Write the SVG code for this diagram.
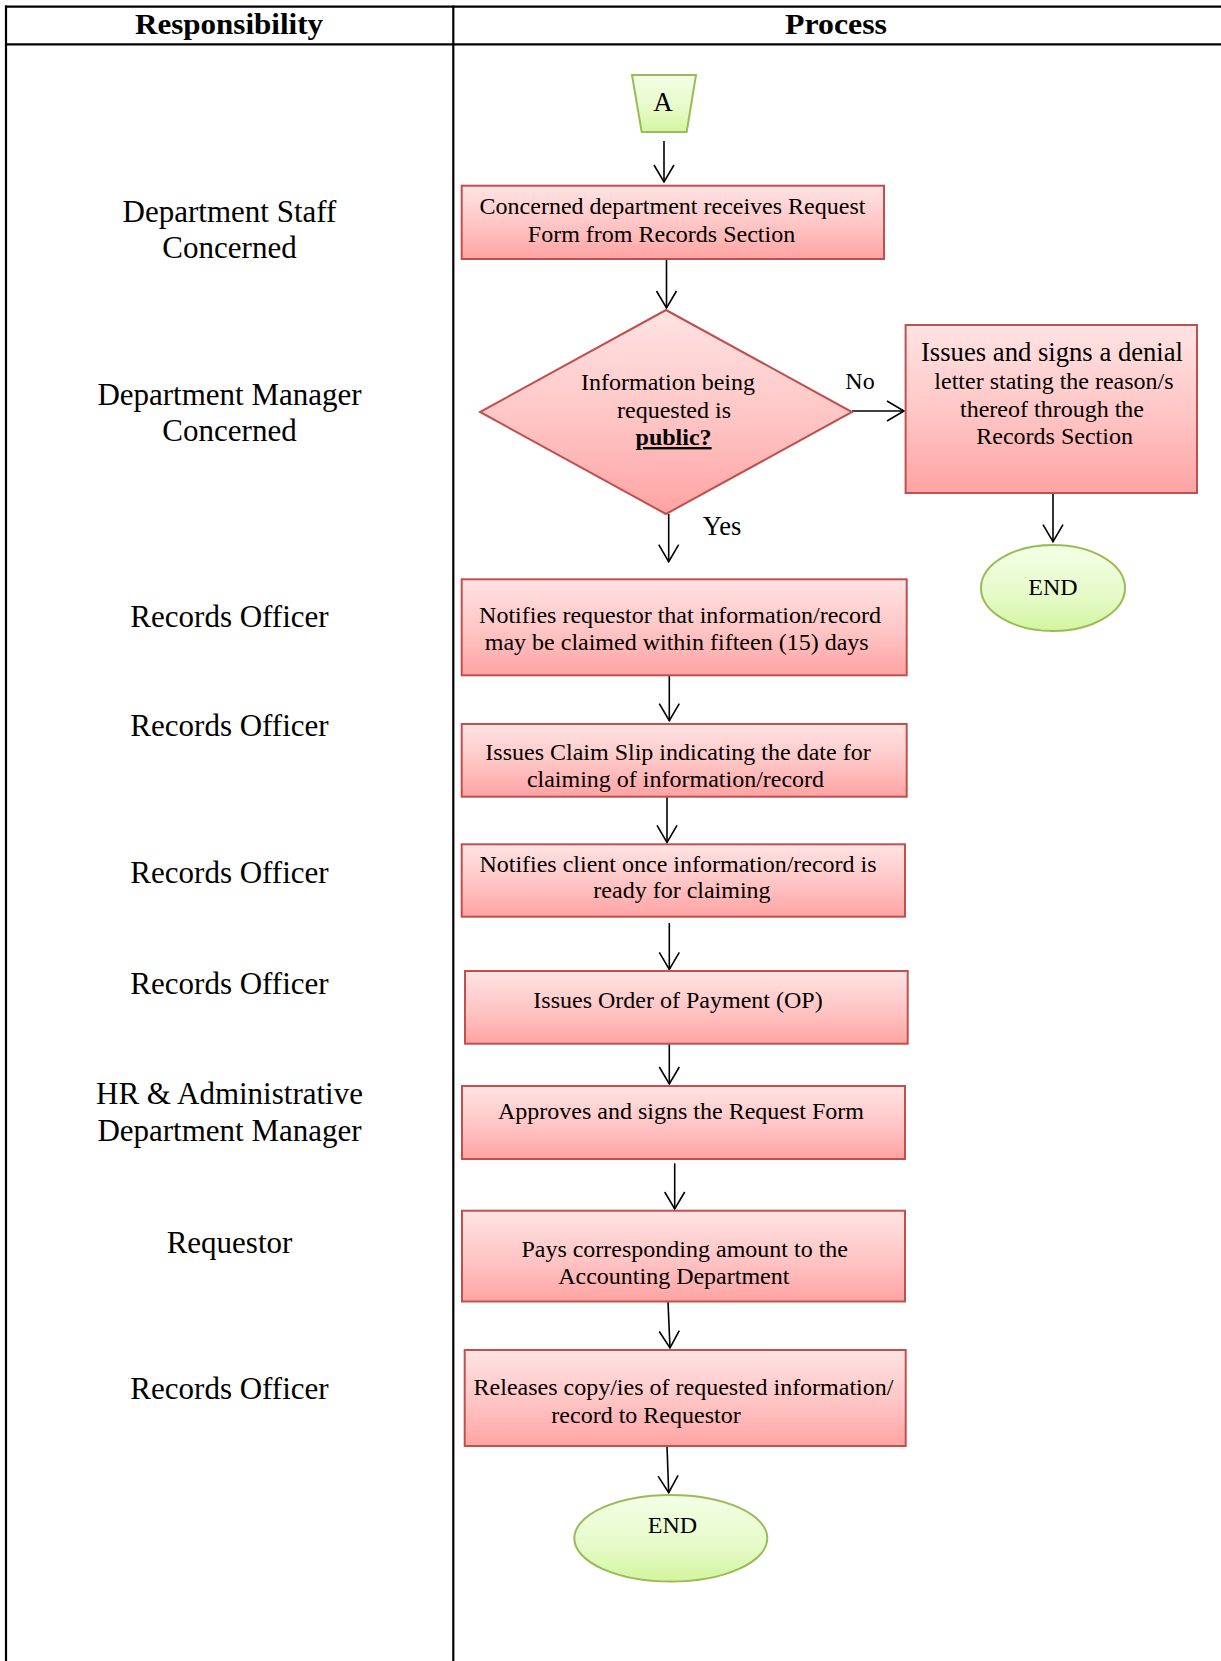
<svg xmlns="http://www.w3.org/2000/svg" width="1221" height="1661" viewBox="0 0 1221 1661">
<defs>
<linearGradient id="gRed" x1="0" y1="0" x2="0" y2="1">
<stop offset="0" stop-color="#FFE3E3"/>
<stop offset="0.55" stop-color="#FFC4C4"/>
<stop offset="1" stop-color="#FFA3A3"/>
</linearGradient>
<linearGradient id="gGreen" x1="0" y1="0" x2="0" y2="1">
<stop offset="0" stop-color="#F3FFE6"/>
<stop offset="0.6" stop-color="#E6FAC8"/>
<stop offset="1" stop-color="#D3F59E"/>
</linearGradient>
<marker id="arr" markerUnits="userSpaceOnUse" viewBox="-20 -12 22 24" refX="0" refY="0" markerWidth="22" markerHeight="24" orient="auto">
<path d="M-17,-10 L0,0 L-17,10" fill="none" stroke="#000" stroke-width="1.6"/>
</marker>
</defs>
<style>
text{font-family:"Liberation Serif","Times New Roman",serif;fill:#000}
.hdr{font-size:29px;font-weight:bold}
.lbl{font-size:31px;text-anchor:middle}
.t{font-size:24px;text-anchor:middle}
.big{font-size:27px}
.yes{font-size:26.5px}
.box{fill:url(#gRed);stroke:#C0504D;stroke-width:2}
.grn{fill:url(#gGreen);stroke:#9BBB59;stroke-width:2}
.tbl{stroke:#000;stroke-width:2.2;fill:none}
.con{stroke:#000;stroke-width:1.6;fill:none;marker-end:url(#arr)}
</style>
<rect width="1221" height="1661" fill="#fff"/>
<g id="table">
<line class="tbl" x1="5" y1="6.7" x2="1221" y2="6.7"/>
<line class="tbl" x1="5" y1="44.3" x2="1221" y2="44.3"/>
<line class="tbl" x1="6" y1="5.6" x2="6" y2="1661"/>
<line class="tbl" x1="453.3" y1="5.6" x2="453.3" y2="1661"/>
<text class="hdr" x="135" y="33.5" textLength="188" lengthAdjust="spacingAndGlyphs">Responsibility</text>
<text class="hdr" x="785" y="33.5" textLength="102" lengthAdjust="spacingAndGlyphs">Process</text>
</g>
<g id="roles">
<text class="lbl" x="229.5" y="221.7">Department Staff</text>
<text class="lbl" x="229.5" y="258.3">Concerned</text>
<text class="lbl" x="229.5" y="405">Department Manager</text>
<text class="lbl" x="229.5" y="440.7">Concerned</text>
<text class="lbl" x="229.5" y="626.7">Records Officer</text>
<text class="lbl" x="229.5" y="736">Records Officer</text>
<text class="lbl" x="229.5" y="883.3">Records Officer</text>
<text class="lbl" x="229.5" y="994.3">Records Officer</text>
<text class="lbl" x="229.5" y="1104.3">HR &amp; Administrative</text>
<text class="lbl" x="229.5" y="1141">Department Manager</text>
<text class="lbl" x="229.5" y="1252.7">Requestor</text>
<text class="lbl" x="229.5" y="1399.3">Records Officer</text>
</g>
<g id="connectors">
<line class="con" x1="664" y1="141" x2="664" y2="182"/>
<line class="con" x1="666.5" y1="259" x2="666.5" y2="308"/>
<line class="con" x1="852" y1="411" x2="904" y2="411"/>
<line class="con" x1="668.7" y1="514" x2="668.7" y2="561.7"/>
<line class="con" x1="1053" y1="493" x2="1053" y2="541.7"/>
<line class="con" x1="669.3" y1="675.3" x2="669.3" y2="720.7"/>
<line class="con" x1="667" y1="796.7" x2="667" y2="842.3"/>
<line class="con" x1="669.3" y1="923" x2="669.3" y2="969.3"/>
<line class="con" x1="669.3" y1="1043.7" x2="669.3" y2="1084"/>
<line class="con" x1="674.7" y1="1163.3" x2="674.7" y2="1209"/>
<line class="con" x1="668" y1="1301.5" x2="670" y2="1348"/>
<line class="con" x1="667" y1="1446" x2="668.7" y2="1492.7"/>
<text class="t" x="860" y="389">No</text>
<text class="t yes" x="722" y="535">Yes</text>
</g>
<g id="connector-A">
<polygon class="grn" points="632,75 696,75 686.7,132 641.7,132"/>
<text x="663" y="111" font-size="27" text-anchor="middle">A</text>
</g>
<g id="receive">
<rect class="box" x="461.7" y="185.7" width="422.3" height="73.3"/>
<text class="t" x="672.5" y="214">Concerned department receives Request</text>
<text class="t" x="661.5" y="241.7">Form from Records Section</text>
</g>
<g id="decision">
<polygon class="box" points="666,310 852,412 666,514 480,412"/>
<text class="t" x="668" y="390">Information being</text>
<text class="t" x="674" y="417.7">requested is</text>
<text class="t" x="673.6" y="445" font-weight="bold" text-decoration="underline">public?</text>
</g>
<g id="denial">
<rect class="box" x="905.6" y="325" width="291.4" height="168"/>
<text class="t big" x="1052" y="360.7" textLength="262" lengthAdjust="spacingAndGlyphs">Issues and signs a denial</text>
<text class="t" x="1054" y="388.7">letter stating the reason/s</text>
<text class="t" x="1052" y="416.7">thereof through the</text>
<text class="t" x="1054.6" y="444.3">Records Section</text>
</g>
<g id="end-denial">
<ellipse class="grn" cx="1053" cy="588" rx="72" ry="43"/>
<text class="t" x="1053" y="595">END</text>
</g>
<g id="notify-requestor">
<rect class="box" x="461.7" y="579.3" width="445" height="96"/>
<text class="t" x="680" y="623.3">Notifies requestor that information/record</text>
<text class="t" x="676.7" y="650">may be claimed within fifteen (15) days</text>
</g>
<g id="claim-slip">
<rect class="box" x="461.7" y="724" width="445" height="72.7"/>
<text class="t" x="678" y="760">Issues Claim Slip indicating the date for</text>
<text class="t" x="675.5" y="786.7">claiming of information/record</text>
</g>
<g id="notify-client">
<rect class="box" x="461.7" y="844.3" width="443.3" height="72.4"/>
<text class="t" x="678" y="871.7">Notifies client once information/record is</text>
<text class="t" x="682" y="898.3">ready for claiming</text>
</g>
<g id="order-payment">
<rect class="box" x="465" y="971" width="442.7" height="72.7"/>
<text class="t" x="678" y="1008.3">Issues Order of Payment (OP)</text>
</g>
<g id="approve">
<rect class="box" x="462" y="1086" width="443" height="73"/>
<text class="t" x="681" y="1119.3">Approves and signs the Request Form</text>
</g>
<g id="pay">
<rect class="box" x="462" y="1210.7" width="443" height="90.8"/>
<text class="t" x="684.7" y="1256.7">Pays corresponding amount to the</text>
<text class="t" x="673.8" y="1284">Accounting Department</text>
</g>
<g id="release">
<rect class="box" x="464.7" y="1350" width="441" height="96"/>
<text class="t" x="683.5" y="1395">Releases copy/ies of requested information/</text>
<text class="t" x="646" y="1423.3">record to Requestor</text>
</g>
<g id="end-main">
<ellipse class="grn" cx="670.8" cy="1538.3" rx="96.5" ry="43.3"/>
<text class="t" x="672.5" y="1533.3">END</text>
</g>
</svg>
